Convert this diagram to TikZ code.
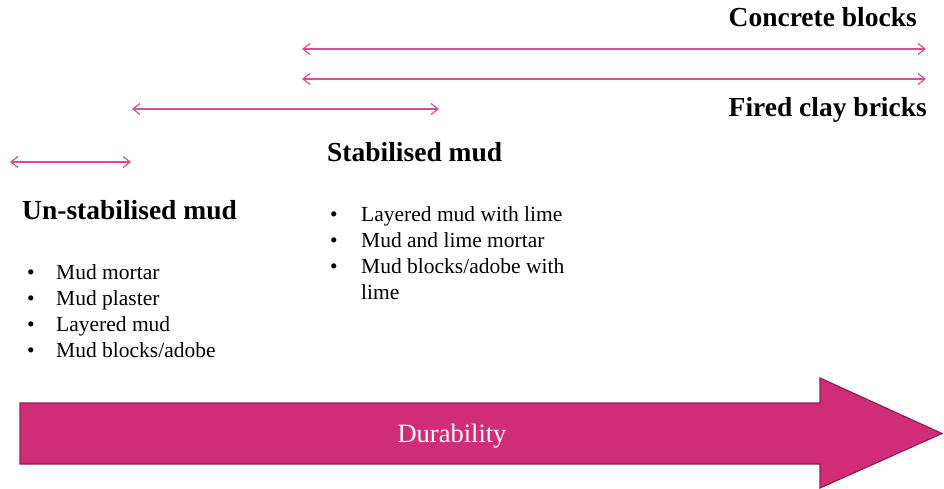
\documentclass[tikz,border=0pt]{standalone}
\usepackage{fontspec}
\setmainfont{LiberationSerif}[Extension=.ttf, UprightFont=*-Regular, BoldFont=*-Bold, ItalicFont=*-Italic, BoldItalicFont=*-BoldItalic]
\usetikzlibrary{arrows.meta}
\definecolor{spanpink}{RGB}{214,80,150}
\definecolor{arrowfill}{RGB}{208,44,120}
\definecolor{arrowedge}{RGB}{150,28,85}
\tikzset{
  span/.style={draw=spanpink, line width=1.3pt,
    {Straight Barb[length=7pt,width=11pt,line width=1.2pt]}-{Straight Barb[length=7pt,width=11pt,line width=1.2pt]}},
  heading/.style={anchor=base west, inner sep=0pt, font=\fontsize{27.5}{30}\selectfont\bfseries},
  bulletlist/.style={anchor=base west, inner sep=0pt, align=left,
    font=\fontsize{21.5}{26.3}\selectfont},
}
\begin{document}
\begin{tikzpicture}[x=1pt,y=-1pt]
\useasboundingbox (0,0) rectangle (944,489);

% span arrows
\coordinate (c1) at (302,49);  \coordinate (c2) at (926,49);
\coordinate (f1) at (302,79);  \coordinate (f2) at (926,79);
\coordinate (s1) at (132,109); \coordinate (s2) at (439,109);
\coordinate (u1) at (10,162);  \coordinate (u2) at (131,162);
\draw[span] (c1) -- (c2);
\draw[span] (f1) -- (f2);
\draw[span] (s1) -- (s2);
\draw[span] (u1) -- (u2);

% headings
\node[heading, anchor=base east] (concrete) at (917,27) {Concrete blocks};
\node[heading, anchor=base east] (fired) at (927,117) {Fired clay bricks};
\node[heading] (stab) at (327,161) {Stabilised mud};
\node[heading] (unstab) at (22,219) {Un-stabilised mud};

% bullet lists
\foreach \t [count=\i] in {Mud mortar, Mud plaster, Layered mud, Mud blocks/adobe} {
  \node[bulletlist] (lb\i) at (27,{279+26.3*(\i-1)}) {\textbullet};
  \node[bulletlist] (lt\i) at (56,{279+26.3*(\i-1)}) {\t};
}
\foreach \t [count=\i] in {Layered mud with lime, Mud and lime mortar, Mud blocks/adobe with} {
  \node[bulletlist] (rb\i) at (330,{221+26.3*(\i-1)}) {\textbullet};
  \node[bulletlist] (rt\i) at (361,{221+26.3*(\i-1)}) {\t};
}
\node[bulletlist] (rt4) at (361,{221+26.3*3}) {lime};

% durability arrow
\draw[fill=arrowfill, draw=arrowedge, line width=1.2pt, line join=miter]
  (20,403) -- (820,403) -- (820,378) -- (942,433.5) -- (820,488) -- (820,464) -- (20,464) -- cycle;
\node[text=white, font=\fontsize{26.5}{30}\selectfont, inner sep=0pt, anchor=base] (dur) at (452,442) {Durability};
\end{tikzpicture}
\end{document}
